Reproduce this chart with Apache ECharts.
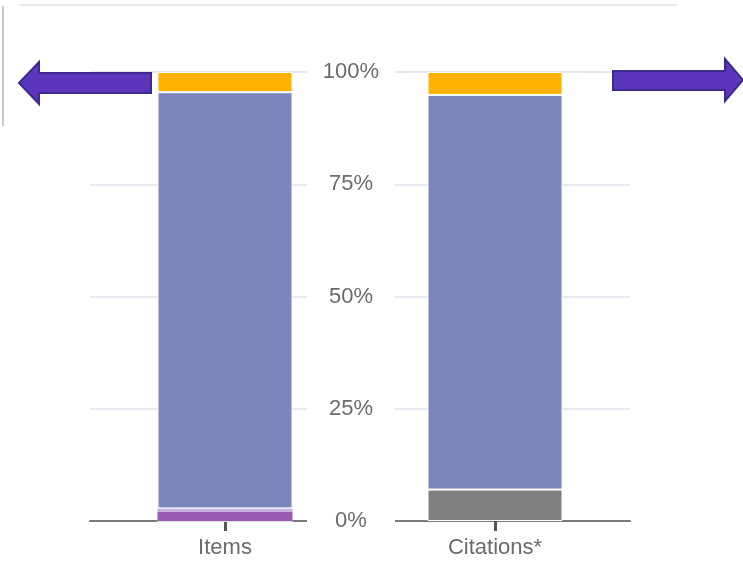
<!DOCTYPE html>
<html><head><meta charset="utf-8">
<script src="https://cdn.jsdelivr.net/npm/echarts@6/dist/echarts.min.js"></script>
<style>html,body{margin:0;padding:0;background:#fff}#c{width:743px;height:562px}</style>
</head><body><div id="c"></div>
<script>
const categories = ['Items', 'Citations*'];
const yTicks = [0, 25, 50, 75, 100];
const grayVals = [0, 7.0];
const purpleVals = [2.0, 0];
const lavenderVals = [0.8, 0];
const blueVals = [92.7, 87.9];
const orangeVals = [4.5, 5.1];

const chart = echarts.init(document.getElementById('c'));
const font = "'Liberation Sans', Arial, sans-serif";
function seg(name, data, color, bw) {
  return { name, type: 'bar', stack: 'all', data, barWidth: 135, yAxisIndex: 0,
    itemStyle: { color, borderColor: '#fff', borderWidth: bw }, z: 2 };
}
chart.setOption({
  animation: false,
  grid: { left: 90, right: 113, top: 72, bottom: 41 },
  xAxis: {
    type: 'category', data: categories, z: 1,
    axisLine: { lineStyle: { color: '#7a7a7a', width: 2 } },
    axisTick: { show: true, alignWithLabel: true, length: 10, lineStyle: { color: '#555', width: 3 } },
    axisLabel: { color: '#6b6b6b', fontSize: 22, fontFamily: font, margin: 16 },
    splitLine: { show: false }
  },
  yAxis: [
    { type: 'value', min: yTicks[0], max: yTicks[yTicks.length - 1], interval: 25, z: 0,
      axisLine: { show: false }, axisTick: { show: false }, axisLabel: { show: false },
      splitLine: { lineStyle: { color: '#e8e8f0', width: 2 } } },
    { type: 'value', min: yTicks[0], max: yTicks[yTicks.length - 1], interval: 25, z: 10,
      position: 'left', offset: -261,
      axisLine: { show: false }, axisTick: { show: false }, splitLine: { show: false },
      axisLabel: { formatter: '{value}%', color: '#6b6b6b', fontSize: 22, fontFamily: font,
        align: 'center', margin: 0, backgroundColor: '#fff', width: 88, padding: [3, 0] } }
  ],
  series: [
    seg('Other', grayVals, '#808080', 1),
    seg('Purple', purpleVals, '#9a5bb2', 0),
    seg('Lavender', lavenderVals, '#c3b2dd', 0),
    seg('Blue', blueVals, '#7b86bc', 1),
    seg('Orange', orangeVals, '#ffb300', 1)
  ],
  graphic: [
    { type: 'line', shape: { x1: 20, y1: 5, x2: 677, y2: 5 }, style: { stroke: '#e6e6ee', lineWidth: 2 }, z: 20 },
    { type: 'line', shape: { x1: 3, y1: 6, x2: 3, y2: 126 }, style: { stroke: '#c8c8c8', lineWidth: 2 }, z: 20 },
    { type: 'polygon', z: 20,
      shape: { points: [[19, 83], [39, 62], [39, 73], [151, 73], [151, 93], [39, 93], [39, 104]] },
      style: { fill: '#5c35bd', stroke: '#3e2a8e', lineWidth: 2 } },
    { type: 'polygon', z: 20,
      shape: { points: [[613, 71], [725, 71], [725, 59], [743, 80], [725, 101], [725, 90], [613, 90]] },
      style: { fill: '#5c35bd', stroke: '#3e2a8e', lineWidth: 2 } }
  ]
});
</script></body></html>
